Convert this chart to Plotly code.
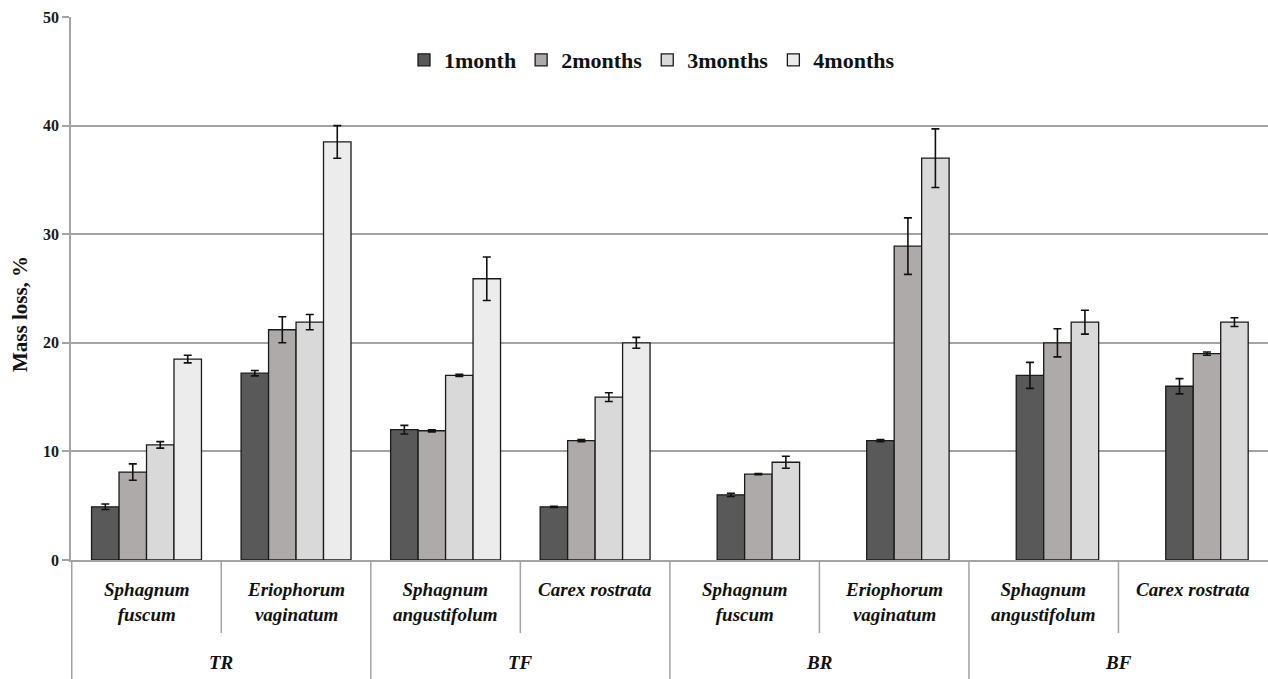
import plotly.graph_objects as go

# ---- data ----
sites = ["TR", "TR", "TF", "TF", "BR", "BR", "BF", "BF"]
species = ["Sphagnum<br>fuscum", "Eriophorum<br>vaginatum", "Sphagnum<br>angustifolum", "Carex rostrata",
           "Sphagnum<br>fuscum", "Eriophorum<br>vaginatum", "Sphagnum<br>angustifolum", "Carex rostrata"]
series_names = ["1month", "2months", "3months", "4months"]
m1 = [4.9, 17.2, 12.0, 4.9, 6.0, 11.0, 17.0, 16.0]
m1_err = [0.25, 0.25, 0.4, 0.05, 0.15, 0.1, 1.2, 0.7]
m2 = [8.1, 21.2, 11.9, 11.0, 7.9, 28.9, 20.0, 19.0]
m2_err = [0.75, 1.2, 0.1, 0.1, 0.05, 2.6, 1.3, 0.15]
m3 = [10.6, 21.9, 17.0, 15.0, 9.0, 37.0, 21.9, 21.9]
m3_err = [0.3, 0.7, 0.1, 0.4, 0.55, 2.7, 1.1, 0.4]
m4 = [18.5, 38.5, 25.9, 20.0, None, None, None, None]
m4_err = [0.35, 1.5, 2.0, 0.5, None, None, None, None]
y_ticks = [0, 10, 20, 30, 40, 50]

values = [m1, m2, m3, m4]
errors = [m1_err, m2_err, m3_err, m4_err]
colors = ["#595959", "#aeaaaa", "#d9d9d9", "#ececec"]
categories = [f"{s}|{sp}" for s, sp in zip(sites, species)]

# ---- layout geometry (pixels) ----
W, H = 1268, 679
L, R, T = 71, 0, 17
BASE = 560
PH = BASE - T
PW = W - L - R


def py(ypix):
    return (BASE - ypix) / PH


def px(xpix):
    return (xpix - L) / PW


fig = go.Figure()

# number of present series per category -> shift slots (as in the original chart)
present = [sum(1 for v in values if v[i] is not None) for i in range(len(categories))]
offset = [4 - n for n in present]

traces = []
for k, name in enumerate(series_names):
    slots = sorted(set(k + offset[i] for i in range(len(categories)) if values[k][i] is not None))
    first = True
    for s in slots:
        idx = [i for i in range(len(categories)) if values[k][i] is not None and k + offset[i] == s]
        traces.append((s, k, go.Bar(
            name=name,
            x=[categories[i] for i in idx],
            y=[values[k][i] for i in idx],
            error_y=dict(type="data", array=[errors[k][i] for i in idx],
                         color="#111111", thickness=1.6, width=4),
            marker=dict(color=colors[k], line=dict(color="#1a1a1a", width=1.3)),
            offsetgroup=f"s{s}",
            legendgroup=name,
            showlegend=first,
        )))
        first = False

for s, k, tr in sorted(traces, key=lambda t: (t[0], t[1])):
    fig.add_trace(tr)

grid_col = "#a3a3a3"
font_serif = "Liberation Serif"

fig.update_layout(
    width=W, height=H,
    margin=dict(l=L, r=R, t=T, b=H - BASE, autoexpand=False),
    paper_bgcolor="white", plot_bgcolor="white",
    barmode="group", bargap=0.265, bargroupgap=0,
    showlegend=True,
    legend=dict(orientation="h", x=px(652), xanchor="center", y=py(60), yanchor="middle",
                font=dict(family=font_serif, size=22, color="#111111", weight="bold"),
                bgcolor="rgba(0,0,0,0)", itemwidth=30, traceorder="normal"),
    xaxis=dict(type="category", categoryorder="array", categoryarray=categories,
               showticklabels=False, ticks="", showgrid=False, automargin=False,
               showline=True, linecolor=grid_col, linewidth=1.5),
    yaxis=dict(range=[0, 50], tickvals=y_ticks, showgrid=True, gridcolor=grid_col, gridwidth=1.5,
               showline=True, linecolor=grid_col, linewidth=1.5, ticks="outside", ticklen=7,
               tickcolor=grid_col, tickwidth=1.5, zeroline=False, automargin=False,
               tickfont=dict(family=font_serif, size=16, color="#1a1a1a", weight="bold")),
    font=dict(family=font_serif),
)

annotations = []
# y axis title
annotations.append(dict(text="Mass loss, %", xref="paper", yref="paper", x=px(20), y=py(314),
                        textangle=-90, showarrow=False, xanchor="center", yanchor="middle",
                        font=dict(family=font_serif, size=21, color="#111111", weight="bold")))
# species labels
for i, sp in enumerate(species):
    annotations.append(dict(text=f"<b><i>{sp}</i></b>", xref="x", yref="paper", x=i, y=py(577),
                            showarrow=False, xanchor="center", yanchor="top",
                            font=dict(family=font_serif, size=19, color="#111111")))
# site labels
unique_sites = []
for s in sites:
    if s not in unique_sites:
        unique_sites.append(s)
for j, s in enumerate(unique_sites):
    idx = [i for i, v in enumerate(sites) if v == s]
    annotations.append(dict(text=f"<b><i>{s}</i></b>", xref="x", yref="paper",
                            x=(idx[0] + idx[-1]) / 2, y=py(662), showarrow=False,
                            xanchor="center", yanchor="middle",
                            font=dict(family=font_serif, size=19, color="#111111")))
fig.update_layout(annotations=annotations)

# divider lines in the category label area
shapes = []
n = len(categories)
for b in range(n):
    xb = b - 0.5
    is_site_boundary = b == 0 or sites[b - 1] != sites[b]
    y_end = py(H) if is_site_boundary else py(633)
    shapes.append(dict(type="line", xref="x", yref="paper", x0=xb, x1=xb, y0=0, y1=y_end,
                       line=dict(color=grid_col, width=1.5)))
fig.update_layout(shapes=shapes)

fig.write_html(
    "out.html",
    config={"displayModeBar": False},
    post_script="document.body.style.margin='0';document.body.style.overflow='hidden';",
)
